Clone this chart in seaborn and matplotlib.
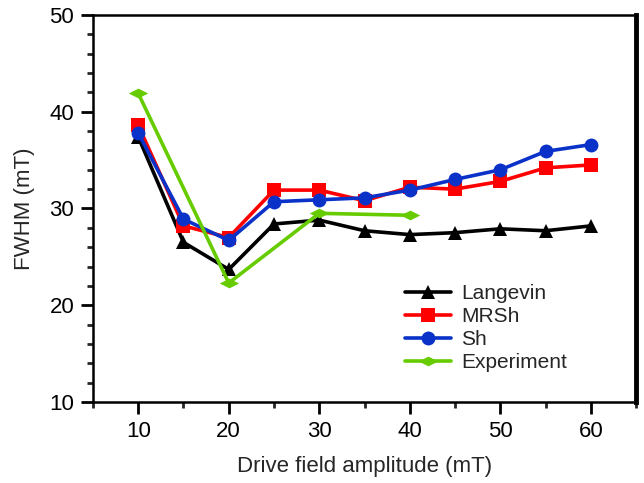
import pandas as pd
import seaborn as sns
import matplotlib.pyplot as plt
from matplotlib.ticker import MultipleLocator

# Drive field amplitude (mT)
field = [10, 15, 20, 25, 30, 35, 40, 45, 50, 55, 60]
langevin = [37.4, 26.5, 23.7, 28.4, 28.8, 27.7, 27.3, 27.5, 27.9, 27.7, 28.2]
mrsh = [38.6, 28.2, 27.0, 31.9, 31.9, 30.8, 32.2, 32.0, 32.8, 34.2, 34.5]
sh = [37.8, 28.9, 26.7, 30.7, 30.9, 31.1, 31.9, 33.0, 34.0, 35.9, 36.6]
exp_field = [10, 20, 30, 40]
experiment = [41.9, 22.3, 29.5, 29.3]

df = pd.concat([
    pd.DataFrame({'field': field, 'fwhm': langevin, 'model': 'Langevin'}),
    pd.DataFrame({'field': field, 'fwhm': mrsh, 'model': 'MRSh'}),
    pd.DataFrame({'field': field, 'fwhm': sh, 'model': 'Sh'}),
    pd.DataFrame({'field': exp_field, 'fwhm': experiment, 'model': 'Experiment'}),
])

sns.set_style('ticks')
plt.rcParams['font.family'] = ['Liberation Sans', 'DejaVu Sans']

fig = plt.figure(figsize=(6.44, 4.83), dpi=100)
ax = fig.add_axes([0.1444, 0.1677, 0.8432, 0.8013])

# flat diamond for the experiment points
flat_diamond = [(-1, 0), (0, 0.5), (1, 0), (0, -0.5), (-1, 0)]

palette = {'Langevin': '#000000', 'MRSh': '#ff0000', 'Sh': '#0a32c8', 'Experiment': '#66cc00'}
markers = {'Langevin': '^', 'MRSh': 's', 'Sh': 'o', 'Experiment': flat_diamond}
sizes = {'Langevin': 10, 'MRSh': 10, 'Sh': 10, 'Experiment': 14}

for name in ['Langevin', 'MRSh', 'Sh', 'Experiment']:
    sub = df[df['model'] == name]
    sns.lineplot(data=sub, x='field', y='fwhm', ax=ax, color=palette[name],
                 marker=markers[name], markersize=sizes[name],
                 markeredgewidth=0, linewidth=2.6, label=name)

ax.set_xlim(5, 65)
ax.set_ylim(10, 50)
ax.xaxis.set_major_locator(MultipleLocator(10))
ax.xaxis.set_minor_locator(MultipleLocator(5))
ax.yaxis.set_major_locator(MultipleLocator(10))
ax.yaxis.set_minor_locator(MultipleLocator(2))
ax.tick_params(which='major', direction='out', length=8.5, width=2, labelsize=16,
               colors='black', pad=5)
ax.tick_params(which='minor', direction='out', length=4, width=2)
for side in ['left', 'bottom', 'top']:
    ax.spines[side].set_linewidth(1.8)
    ax.spines[side].set_color('black')
ax.spines['right'].set_linewidth(3.5)
ax.spines['right'].set_color('black')

ax.set_xlabel('Drive field amplitude (mT)', fontsize=16, labelpad=10)
ax.set_ylabel('FWHM (mT)', fontsize=16, labelpad=10)

ax.legend(loc='upper left', bbox_to_anchor=(0.575, 0.305), frameon=False,
          borderpad=0, borderaxespad=0,
          fontsize=15, handlelength=2.2, handletextpad=0.5, labelspacing=0.2)

plt.savefig('out.png', dpi=100)
